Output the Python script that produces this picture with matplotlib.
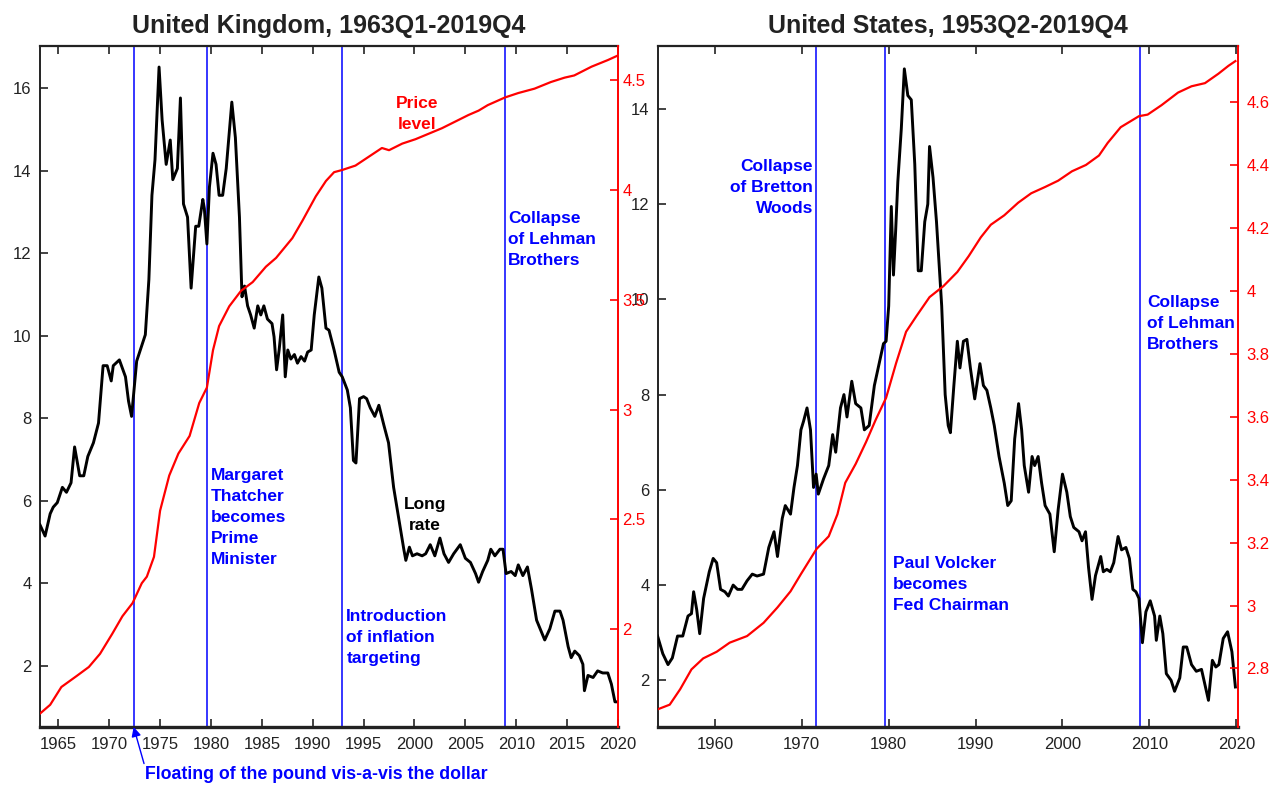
import matplotlib
matplotlib.use('Agg')
import matplotlib.pyplot as plt

plt.rcParams['font.family'] = ['Liberation Sans', 'DejaVu Sans']

BLUE = '#0000ff'
RED = '#ff0000'
DARK = '#222222'

# ---- United Kingdom: long rate (left axis, %) ----
uk_rate_t = [1963.2, 1963.7, 1964.2, 1964.5, 1964.9, 1965.4, 1965.8, 1966.25, 1966.6, 1967.1,
             1967.5, 1967.9, 1968.45, 1968.95, 1969.4, 1969.8, 1970.2, 1970.4, 1971.0, 1971.6,
             1971.9, 1972.2, 1972.7, 1973.2, 1973.55, 1973.9, 1974.2, 1974.5, 1974.9, 1975.2,
             1975.6, 1976.0, 1976.25, 1976.7, 1977.0, 1977.3, 1977.7, 1978.05, 1978.5, 1978.8,
             1979.2, 1979.35, 1979.6, 1979.85, 1980.2, 1980.5, 1980.8, 1981.15, 1981.5, 1982.05,
             1982.4, 1982.8, 1983.05, 1983.3, 1983.6, 1983.9, 1984.25, 1984.6, 1984.9, 1985.2,
             1985.55, 1986.0, 1986.2, 1986.45, 1986.7, 1987.05, 1987.3, 1987.55, 1987.85, 1988.2,
             1988.5, 1988.85, 1989.2, 1989.5, 1989.85, 1990.15, 1990.6, 1990.9, 1991.3, 1991.6,
             1992.1, 1992.6, 1992.9, 1993.4, 1993.7, 1994.0, 1994.25, 1994.6, 1995.0, 1995.3,
             1995.65, 1996.1, 1996.5, 1997.0, 1997.45, 1997.95, 1998.45, 1998.95, 1999.15, 1999.5,
             1999.8, 2000.25, 2000.75, 2001.1, 2001.55, 2002.0, 2002.5, 2002.9, 2003.35, 2003.85,
             2004.5, 2005.0, 2005.5, 2006.0, 2006.3, 2006.7, 2007.2, 2007.5, 2007.9, 2008.4,
             2008.7, 2009.0, 2009.5, 2009.9, 2010.2, 2010.65, 2011.1, 2011.5, 2012.0, 2012.45,
             2012.8, 2013.3, 2013.8, 2014.3, 2014.6, 2015.1, 2015.4, 2015.75, 2016.2, 2016.55,
             2016.7, 2017.05, 2017.55, 2018.0, 2018.5, 2019.0, 2019.35, 2019.7, 2019.95]
uk_rate = [5.41, 5.14, 5.68, 5.84, 5.95, 6.32, 6.2, 6.43, 7.3, 6.6,
           6.6, 7.07, 7.4, 7.88, 9.27, 9.27, 8.9, 9.27, 9.41, 9.0,
           8.41, 8.04, 9.38, 9.76, 10.02, 11.36, 13.4, 14.26, 16.51, 15.23,
           14.15, 14.74, 13.78, 14.05, 15.76, 13.19, 12.87, 11.15, 12.65, 12.65,
           13.3, 13.08, 12.22, 13.6, 14.42, 14.15, 13.4, 13.4, 14.05, 15.66,
           14.8, 12.87, 10.94, 11.2, 10.72, 10.5, 10.18, 10.72, 10.5, 10.72,
           10.4, 10.29, 9.97, 9.17, 9.65, 10.5, 9.0, 9.65, 9.43, 9.54,
           9.33, 9.49, 9.38, 9.6, 9.65, 10.5, 11.42, 11.15, 10.18, 10.13,
           9.65, 9.11, 9.0, 8.68, 8.25, 6.97, 6.91, 8.47, 8.52, 8.47,
           8.25, 8.04, 8.31, 7.82, 7.4, 6.32, 5.57, 4.82, 4.55, 4.87,
           4.66, 4.71, 4.66, 4.71, 4.93, 4.66, 5.09, 4.71, 4.5, 4.71,
           4.93, 4.6, 4.5, 4.23, 4.02, 4.28, 4.55, 4.82, 4.66, 4.82,
           4.82, 4.23, 4.28, 4.18, 4.44, 4.18, 4.39, 3.85, 3.1, 2.83,
           2.62, 2.89, 3.32, 3.32, 3.1, 2.46, 2.19, 2.35, 2.24, 2.03,
           1.39, 1.76, 1.71, 1.87, 1.82, 1.82, 1.55, 1.12, 1.12]

# ---- United Kingdom: price level (right axis, log) ----
uk_price_t = [1963.2, 1964.2, 1965.3, 1966.8, 1968.0, 1969.1, 1970.3, 1971.3, 1972.3, 1973.2,
              1973.7, 1974.4, 1975.0, 1975.9, 1976.8, 1977.9, 1978.85, 1979.6, 1980.2, 1980.8,
              1981.8, 1982.95, 1984.1, 1985.4, 1986.4, 1988.0, 1989.0, 1990.3, 1991.3, 1992.1,
              1992.9, 1994.2, 1995.5, 1996.8, 1997.5, 1998.8, 2000.1, 2001.4, 2002.7, 2004.0,
              2005.3, 2006.3, 2007.2, 2008.9, 2010.2, 2011.8, 2013.4, 2014.75, 2015.7, 2017.4,
              2019.0, 2019.95]
uk_price = [1.617, 1.657, 1.738, 1.788, 1.829, 1.889, 1.98, 2.06, 2.12, 2.21,
            2.24, 2.33, 2.54, 2.70, 2.80, 2.88, 3.03, 3.10, 3.27, 3.38,
            3.47, 3.54, 3.58, 3.65, 3.69, 3.78, 3.86, 3.97, 4.04, 4.08,
            4.09, 4.11, 4.15, 4.19, 4.18, 4.21, 4.23, 4.255, 4.28, 4.31,
            4.34, 4.36, 4.385, 4.42, 4.44, 4.46, 4.49, 4.51, 4.52, 4.56,
            4.59, 4.61]

# ---- United States: long rate ----
us_rate_t = [1953.4, 1954.0, 1954.6, 1955.1, 1955.7, 1956.3, 1956.9, 1957.3, 1957.55, 1957.9,
             1958.25, 1958.7, 1959.35, 1959.8, 1960.2, 1960.65, 1961.15, 1961.55, 1962.1, 1962.6,
             1963.1, 1963.7, 1964.3, 1964.85, 1965.6, 1966.2, 1966.8, 1967.2, 1967.75, 1968.1,
             1968.7, 1969.1, 1969.5, 1969.9, 1970.2, 1970.6, 1971.0, 1971.35, 1971.65, 1971.9,
             1972.5, 1973.1, 1973.55, 1973.9, 1974.45, 1974.85, 1975.2, 1975.75, 1976.2, 1976.8,
             1977.2, 1977.75, 1978.35, 1978.9, 1979.4, 1979.7, 1980.0, 1980.3, 1980.55, 1980.8,
             1981.05, 1981.45, 1981.8, 1982.2, 1982.6, 1983.0, 1983.4, 1983.75, 1984.15, 1984.5,
             1984.7, 1985.1, 1985.5, 1986.1, 1986.5, 1986.85, 1987.1, 1987.5, 1987.9, 1988.2,
             1988.6, 1989.0, 1989.4, 1989.9, 1990.5, 1990.9, 1991.3, 1991.75, 1992.15, 1992.7,
             1993.3, 1993.7, 1994.1, 1994.5, 1994.95, 1995.3, 1995.6, 1996.1, 1996.5, 1996.8,
             1997.2, 1997.6, 1998.0, 1998.55, 1999.05, 1999.5, 2000.0, 2000.5, 2000.9, 2001.3,
             2001.9, 2002.25, 2002.65, 2003.0, 2003.4, 2003.8, 2004.4, 2004.7, 2005.1, 2005.5,
             2005.9, 2006.4, 2006.8, 2007.3, 2007.7, 2008.1, 2008.45, 2008.8, 2009.2, 2009.6,
             2010.1, 2010.6, 2010.8, 2011.2, 2011.55, 2011.95, 2012.5, 2012.9, 2013.5, 2013.9,
             2014.3, 2014.85, 2015.4, 2016.0, 2016.4, 2016.8, 2017.25, 2017.65, 2018.0, 2018.5,
             2019.0, 2019.5, 2019.9]
us_rate = [2.93, 2.56, 2.33, 2.47, 2.93, 2.93, 3.35, 3.4, 3.86, 3.49,
           2.98, 3.72, 4.28, 4.56, 4.47, 3.91, 3.86, 3.77, 4.0, 3.91,
           3.91, 4.09, 4.23, 4.19, 4.23, 4.79, 5.12, 4.6, 5.4, 5.67,
           5.49, 6.05, 6.51, 7.26, 7.44, 7.72, 7.26, 6.05, 6.33, 5.91,
           6.23, 6.51, 7.16, 6.79, 7.72, 8.0, 7.53, 8.28, 7.81, 7.72,
           7.26, 7.35, 8.19, 8.65, 9.07, 9.12, 9.86, 11.95, 10.51, 11.44,
           12.47, 13.58, 14.84, 14.28, 14.19, 12.84, 10.6, 10.6, 11.63, 12.0,
           13.21, 12.56, 11.63, 9.86, 8.0, 7.35, 7.2, 8.19, 9.12, 8.56,
           9.12, 9.16, 8.56, 7.91, 8.65, 8.19, 8.09, 7.72, 7.35, 6.7,
           6.14, 5.67, 5.77, 7.07, 7.81, 7.26, 6.51, 5.95, 6.7, 6.51,
           6.7, 6.14, 5.67, 5.49, 4.7, 5.58, 6.33, 5.95, 5.44, 5.21,
           5.12, 4.93, 5.12, 4.37, 3.7, 4.2, 4.6, 4.28, 4.33, 4.28,
           4.47, 5.02, 4.74, 4.79, 4.56, 3.91, 3.86, 3.72, 2.79, 3.44,
           3.67, 3.35, 2.84, 3.35, 2.98, 2.14, 2.0, 1.77, 2.05, 2.7,
           2.7, 2.33, 2.19, 2.23, 1.91, 1.58, 2.42, 2.28, 2.33, 2.88,
           3.02, 2.6, 1.86]

# ---- United States: price level ----
us_price_t = [1953.4, 1954.8, 1956.0, 1957.3, 1958.65, 1960.2, 1961.7, 1963.7, 1965.6, 1967.2,
              1968.7, 1969.9, 1971.7, 1973.1, 1974.1, 1975.0, 1976.2, 1977.4, 1978.5, 1979.7,
              1980.85, 1982.0, 1983.2, 1984.7, 1986.3, 1987.9, 1989.2, 1990.6, 1991.75, 1993.3,
              1994.9, 1996.4, 1998.0, 1999.5, 2001.1, 2002.7, 2004.2, 2005.2, 2006.7, 2007.9,
              2008.8, 2009.8, 2011.4, 2013.3, 2014.85, 2016.4, 2017.95, 2019.1, 2019.9]
us_price = [2.67, 2.685, 2.734, 2.797, 2.832, 2.853, 2.882, 2.903, 2.945, 2.994,
            3.045, 3.1, 3.18, 3.22, 3.29, 3.39, 3.45, 3.52, 3.59, 3.66,
            3.77, 3.87, 3.92, 3.98, 4.015, 4.06, 4.11, 4.17, 4.21, 4.24,
            4.28, 4.31, 4.33, 4.35, 4.38, 4.40, 4.43, 4.47, 4.52, 4.54,
            4.555, 4.56, 4.59, 4.63, 4.65, 4.66, 4.69, 4.715, 4.73]

uk_events = [1972.4, 1979.6, 1992.85, 2008.9]
us_events = [1971.65, 1979.6, 2008.9]

uk_xticks = list(range(1965, 2021, 5))
us_xticks = list(range(1960, 2021, 10))
uk_yticks = [2, 4, 6, 8, 10, 12, 14, 16]
uk_yticks_r = [2, 2.5, 3, 3.5, 4, 4.5]
us_yticks = [2, 4, 6, 8, 10, 12, 14]
us_yticks_r = [2.8, 3.0, 3.2, 3.4, 3.6, 3.8, 4.0, 4.2, 4.4, 4.6]

fig = plt.figure(figsize=(12.72, 7.86), dpi=100)
ax_uk = fig.add_axes([40 / 1272, 59 / 786, 578 / 1272, 681 / 786])
ax_us = fig.add_axes([658 / 1272, 59 / 786, 580 / 1272, 681 / 786])


def style_panel(ax, axr, title, xlim, ylim, ylim_r, xticks, yticks, yticks_r, rpad):
    ax.set_xlim(xlim)
    ax.set_ylim(ylim)
    axr.set_ylim(ylim_r)
    ax.set_xticks(xticks)
    ax.set_yticks(yticks)
    ax.set_yticklabels([f'{v:g}' for v in yticks])
    axr.set_yticks(yticks_r)
    axr.set_yticklabels([f'{v:g}' for v in yticks_r])
    ax.tick_params(axis='both', direction='in', length=6, width=1.2,
                   labelsize=12, labelcolor=DARK, color=DARK)
    ax.tick_params(axis='x', top=True, pad=7)
    ax.tick_params(axis='y', right=False, pad=6)
    axr.tick_params(axis='y', direction='in', length=6, width=1.2,
                    labelsize=12, colors=RED, pad=rpad)
    ax.spines['right'].set_visible(False)
    ax.spines['left'].set_linewidth(1.4)
    ax.spines['top'].set_linewidth(1.6)
    ax.spines['bottom'].set_linewidth(2.4)
    for s in ('left', 'top', 'bottom'):
        ax.spines[s].set_color(DARK)
        axr.spines[s].set_visible(False)
    axr.spines['right'].set_color(RED)
    axr.spines['right'].set_linewidth(1.4)
    ax.set_title(title, fontsize=18, fontweight='bold', pad=9, color=DARK)


txt = dict(fontsize=12.5, fontweight='bold', linespacing=1.5)

# ---- UK panel ----
ax_uk_r = ax_uk.twinx()
for x in uk_events:
    ax_uk.axvline(x, color=BLUE, lw=1.1, zorder=1)
ax_uk.plot(uk_rate_t, uk_rate, color='black', lw=2.1, zorder=3)
ax_uk_r.plot(uk_price_t, uk_price, color=RED, lw=1.6)
style_panel(ax_uk, ax_uk_r, 'United Kingdom, 1963Q1-2019Q4',
            (1963.2, 2020.0), (0.51, 17.02), (1.556, 4.654),
            uk_xticks, uk_yticks, uk_yticks_r, 3)

ax_uk.text(2000.3, 15.36, 'Price\nlevel', color=RED, ha='center', va='center',
           multialignment='center', **txt)
ax_uk.text(2009.2, 12.32, 'Collapse\nof Lehman\nBrothers', color=BLUE,
           ha='left', va='center', **txt)
ax_uk.text(1980.0, 5.6, 'Margaret\nThatcher\nbecomes\nPrime\nMinister', color=BLUE,
           ha='left', va='center', **txt)
ax_uk.text(2001.0, 5.65, 'Long\nrate', color='black', ha='center', va='center',
           multialignment='center', **txt)
ax_uk.text(1993.3, 2.68, 'Introduction\nof inflation\ntargeting', color=BLUE,
           ha='left', va='center', **txt)
ax_uk.annotate('Floating of the pound vis-a-vis the dollar',
               xy=(uk_events[0], 0.51), xytext=(1973.5, -0.65),
               ha='left', va='center', color=BLUE, annotation_clip=False,
               arrowprops=dict(arrowstyle='-|>', color=BLUE, lw=1.0,
                               shrinkA=0, shrinkB=0, relpos=(0, 1),
                               mutation_scale=14),
               fontsize=12.8, fontweight='bold')

# ---- US panel ----
ax_us_r = ax_us.twinx()
for x in us_events:
    ax_us.axvline(x, color=BLUE, lw=1.1, zorder=1)
ax_us.plot(us_rate_t, us_rate, color='black', lw=2.1, zorder=3)
ax_us_r.plot(us_price_t, us_price, color=RED, lw=1.6)
style_panel(ax_us, ax_us_r, 'United States, 1953Q2-2019Q4',
            (1953.45, 2020.2), (1.02, 15.32), (2.614, 4.778),
            us_xticks, us_yticks, us_yticks_r, 6)

ax_us.text(1971.3, 12.35, 'Collapse\nof Bretton\nWoods', color=BLUE,
           ha='right', va='center', multialignment='right', **txt)
ax_us.text(1980.5, 4.02, 'Paul Volcker\nbecomes\nFed Chairman', color=BLUE,
           ha='left', va='center', **txt)
ax_us.text(2009.75, 9.49, 'Collapse\nof Lehman\nBrothers', color=BLUE,
           ha='left', va='center', **txt)

fig.savefig('out.png', dpi=100)
